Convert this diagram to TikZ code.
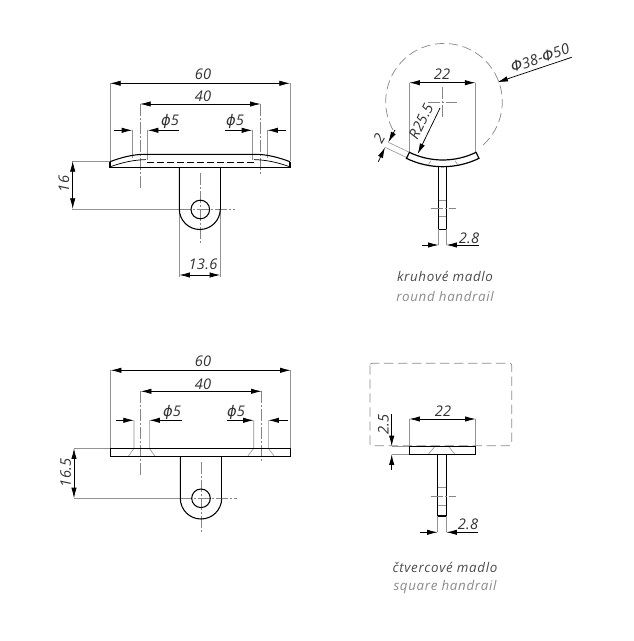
\documentclass[tikz,border=0pt]{standalone}
\usepackage{fontspec}
\setmainfont{Open Sans}
\newfontfamily\phifont{DejaVu Sans}
\usetikzlibrary{arrows.meta}
\newcommand{\dia}{{\phifont\itshape ϕ}}
\tikzset{
  outline/.style={draw=black,line width=0.8pt},
  dimline/.style={draw=black,line width=0.55pt},
  dimboth/.style={dimline,{Latex[length=8pt,width=4pt]}-{Latex[length=8pt,width=4pt]}},
  dimend/.style={dimline,-{Latex[length=8pt,width=4pt]}},
  extline/.style={draw=black!42,line width=0.45pt},
  centerline/.style={draw=black!48,line width=0.45pt,dash pattern=on 9pt off 1.5pt on 1.5pt off 1.5pt},
  ghost/.style={draw=black!45,line width=0.55pt,dash pattern=on 7pt off 3.5pt},
  lbl/.style={font=\fontsize{11}{13}\selectfont\itshape\addfontfeature{LetterSpace=2},text=black!80,inner sep=0pt},
  caption1/.style={font=\fontsize{10}{12}\selectfont\itshape\addfontfeature{LetterSpace=5},text=black!70,inner sep=0pt},
  caption2/.style={font=\fontsize{10}{12}\selectfont\itshape\addfontfeature{LetterSpace=5},text=black!45,inner sep=0pt},
}
\begin{document}
\begin{tikzpicture}[x=0.75pt,y=-0.75pt]
\useasboundingbox (0,0) rectangle (633,641);
\fill[white] (0,0) rectangle (633,641);

%% ---------- top left: curved plate ----------
\draw[extline] (110,83) -- (110,161);
\draw[extline] (290,83) -- (290,161);
\draw[extline] (132.3,130) -- (132.3,158) (147.7,130) -- (147.7,160);
\draw[extline] (252.3,130) -- (252.3,160) (267.3,130) -- (267.3,158);
\draw[extline] (72,161) -- (110,161);
\draw[extline] (72,209) -- (179,209);
\draw[extline] (179.3,209) -- (179.3,277) (220.3,209) -- (220.3,277);
\draw[centerline] (140,104) -- (140,188);
\draw[centerline] (260.7,104) -- (260.7,176);
\draw[centerline] (200,173) -- (200,245);
\draw[centerline] (179,209) -- (235,209);
\draw[outline] (110,161.7) .. controls (120,158) and (132,154.3) .. (145,154.3) -- (255,154.3) .. controls (268,154.3) and (280,158) .. (290,161.7);
\draw[outline] (110,161.7) -- (110,167.7) -- (290,167.7) -- (290,161.7);
\draw[outline,line width=0.55pt] (110.5,166.7) .. controls (118,164) and (130,160) .. (146,159.6);
\draw[outline,line width=0.55pt] (289.5,166.7) .. controls (282,164) and (270,160) .. (254,159.6);
\draw[outline,line width=0.55pt,dash pattern=on 5pt off 2.5pt] (147,162) -- (254,162);
\draw[outline] (179.3,167.7) -- (179.3,209) arc[start angle=180,end angle=0,radius=20.5];
\draw[outline] (220.3,209) -- (220.3,167.7);
\draw[outline] (200.3,209.5) circle[radius=9.3];
\draw[dimboth] (110,83.3) -- (290,83.3);
\draw[dimboth] (140,104) -- (260.7,104);
\draw[dimend] (114,130.3) -- (132.3,130.3);
\draw[dimend] (179,130.3) -- (147.7,130.3);
\draw[dimend] (225,130.3) -- (252.3,130.3);
\draw[dimend] (285.7,130.3) -- (267.3,130.3);
\draw[dimboth] (72.7,161) -- (72.7,209);
\draw[dimboth] (179.3,275) -- (220.3,275);
\node[lbl] (a60) at (203,74) {60};
\node[lbl] (a40) at (203,96) {40};
\node[lbl] (ad1) at (170,121) {\dia5};
\node[lbl] (ad2) at (235,121) {\dia5};
\node[lbl,rotate=90] (a16) at (64,184) {16};
\node[lbl] (a136) at (203,264) {13.6};

%% ---------- top right: round handrail ----------
\coordinate (rc) at (442.7,83.7);
\draw[ghost] (393,130) arc[start angle=151,end angle=409,radius=58.3];
\draw[extline] (409.3,82.7) -- (409.3,153) (475.5,82.7) -- (475.5,152);
\draw[extline] (409.3,152.3) -- (388.3,142.3) (408.3,158.3) -- (385,147.3);
\draw[centerline] (428,102.3) -- (457,102.3);
\draw[centerline] (442.7,87) -- (442.7,117);
\draw[outline,line width=0.9pt] (rc)+(115.9:76.3) arc[start angle=115.9,end angle=64.1,radius=76.3]
  -- ++(64.1:6.7) arc[start angle=64.1,end angle=115.9,radius=83] -- cycle;
\draw[extline] (431,160.8) -- (428,165) (455,160.8) -- (458,165);
\draw[outline] (438.7,166.7) -- (438.7,229.3) -- (446.3,229.3) -- (446.3,166.7);
\draw[extline] (438.7,200) -- (446.3,200) (438.7,216.7) -- (446.3,216.7);
\draw[centerline] (430.7,208.3) -- (456,208.3);
\draw[extline] (438.7,229) -- (438.7,245) (446.3,229) -- (446.3,245);
\draw[dimboth] (409.3,82.7) -- (475.5,82.7);
\draw[dimend] (440,108) -- (417.7,154);
\draw[dimend] (571.7,57.3) -- (497.3,82.3);
\draw[dimend] (395,130) -- (388.3,142.3);
\draw[dimend] (378.3,161.7) -- (385,147.3);
\draw[dimend] (422.3,245) -- (438.7,245);
\draw[dimend] (479.3,245) -- (446.3,245);
\node[lbl] (b22) at (442,74) {22};
\node[lbl,rotate=64] (br) at (421,121.5) {R25.5};
\node[lbl,rotate=62] (b2) at (379,138) {2};
\node[lbl,rotate=18.7] (bd) at (540,58) {{\phifont\itshape Φ}38-{\phifont\itshape Φ}50};
\node[lbl] (b28) at (469,238) {2.8};
\node[caption1] (bc1) at (445,276) {kruhové madlo};
\node[caption2] (bc2) at (445,296) {round handrail};

%% ---------- bottom left: flat plate ----------
\draw[extline] (110.7,370.3) -- (110.7,448.3) (290.7,370.3) -- (290.7,448.3);
\draw[extline] (134,420.3) -- (134,448.3) -- (128.3,456.3) (149.3,420.3) -- (149.3,448.3) -- (155,456.3);
\draw[extline] (253.7,420.3) -- (253.7,448.3) -- (247.7,456.3) (268.3,420.3) -- (268.3,448.3) -- (274.3,456.3);
\draw[extline] (74,448.3) -- (110.7,448.3) (74,498.3) -- (180,498.3);
\draw[centerline] (140.7,391.3) -- (140.7,475);
\draw[centerline] (261.7,391.3) -- (261.7,462.3);
\draw[centerline] (201.3,461.7) -- (201.3,533);
\draw[centerline] (180,498.3) -- (236.7,498.3);
\draw[outline] (110.7,448.3) rectangle (290.7,456.3);
\draw[outline] (180.3,456.3) -- (180.3,498.3) arc[start angle=180,end angle=0,radius=20.7];
\draw[outline] (221.7,498.3) -- (221.7,456.3);
\draw[outline] (201,498.3) circle[radius=9.3];
\draw[dimboth] (110.7,370.3) -- (290.7,370.3);
\draw[dimboth] (140.7,391.3) -- (261.7,391.3);
\draw[dimend] (116,420.3) -- (134,420.3);
\draw[dimend] (181.7,420.3) -- (149.3,420.3);
\draw[dimend] (227.3,420.3) -- (253.7,420.3);
\draw[dimend] (287.7,420.3) -- (268.3,420.3);
\draw[dimboth] (74,448.3) -- (74,498.3);
\node[lbl] (c60) at (203,361) {60};
\node[lbl] (c40) at (203,384) {40};
\node[lbl] (cd1) at (172,412) {\dia5};
\node[lbl] (cd2) at (236,412) {\dia5};
\node[lbl,rotate=90] (c165) at (65.7,472.7) {16.5};

%% ---------- bottom right: square handrail ----------
\draw[ghost,rounded corners=1.5pt] (370,363.3) rectangle (511.7,445.7);
\draw[extline] (409.3,419) -- (409.3,446.3) (475.7,419) -- (475.7,446.3);
\draw[extline] (391.7,446.3) -- (409.3,446.3) (391.7,454.3) -- (409.3,454.3);
\draw[extline] (428.3,454.3) -- (435,446.3) (455,454.3) -- (448.3,446.3);
\draw[outline] (409.3,446.3) rectangle (475.7,454.3);
\draw[outline] (437.7,454.3) -- (437.7,516) -- (446.3,516) -- (446.3,454.3);
\draw[extline] (437.7,487.3) -- (446.3,487.3) (437.7,505) -- (446.3,505);
\draw[centerline] (430.7,496) -- (456,496);
\draw[extline] (437.7,516) -- (437.7,532.3) (446.3,516) -- (446.3,532.3);
\draw[dimboth] (409.3,419) -- (475.7,419);
\draw[dimend] (391.7,414.3) -- (391.7,446.3);
\draw[dimend] (391.7,470) -- (391.7,454.3);
\draw[dimend] (420,532.3) -- (437.7,532.3);
\draw[dimend] (478.3,532.3) -- (446.3,532.3);
\node[lbl] (d22) at (443,411) {22};
\node[lbl,rotate=90] (d25) at (383.3,424.3) {2.5};
\node[lbl] (d28) at (468,524) {2.8};
\node[caption1] (dc1) at (445,567) {čtvercové madlo};
\node[caption2] (dc2) at (445,587) {square handrail};
\end{tikzpicture}
\end{document}
